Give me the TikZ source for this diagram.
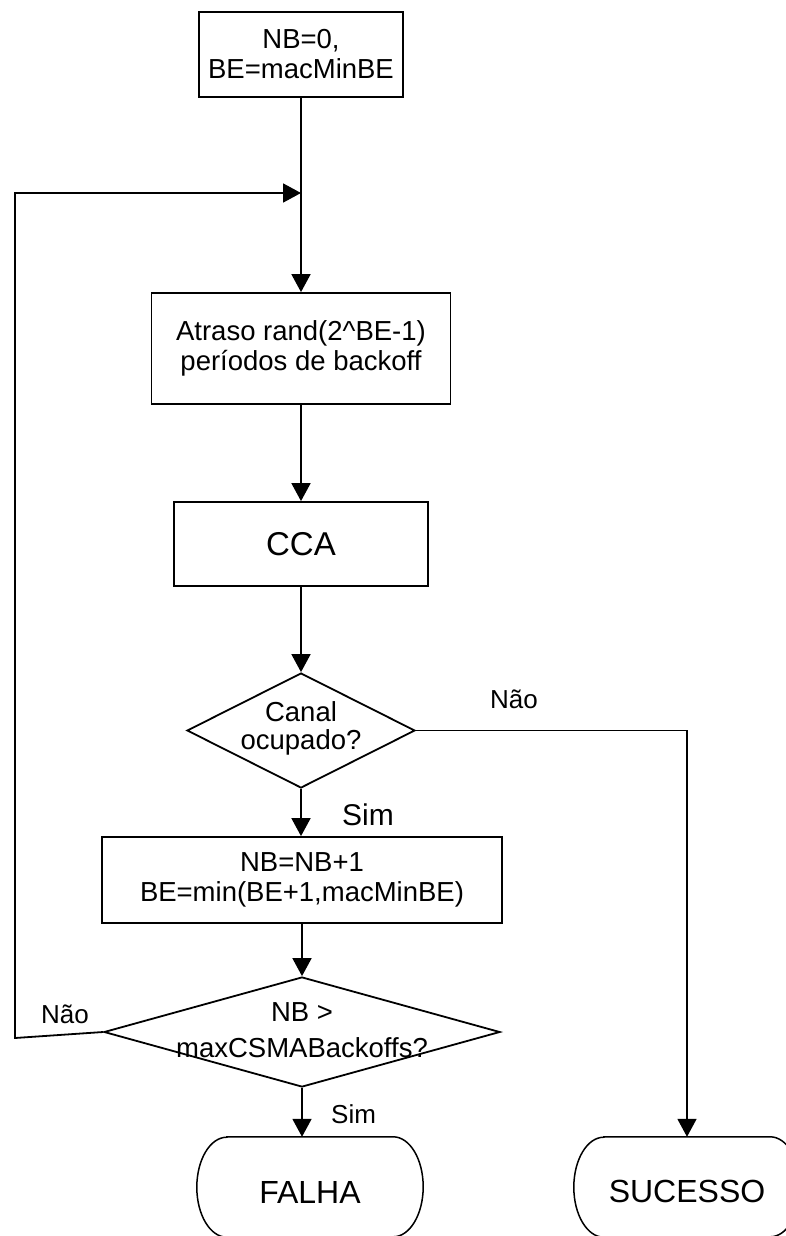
\documentclass[tikz,border=0pt]{standalone}
\usepackage{fontspec}
\setmainfont{Liberation Sans}
\usetikzlibrary{shapes.geometric,arrows.meta,calc}
\begin{document}
\begin{tikzpicture}[x=1pt,y=-1pt,
  box/.style={draw, line width=1.8pt, rectangle, align=center, inner sep=0pt,
              font=\fontsize{27.5}{30}\selectfont},
  decision/.style={draw, line width=1.8pt, diamond, inner sep=0pt},
  dtext/.style={align=center, inner sep=0pt},
  termnode/.style={rectangle, inner sep=0pt, minimum width=226pt,
                   minimum height=100pt, text height=32pt,
                   font=\fontsize{32}{34}\selectfont},
  termline/.style={line width=1.5pt},
  flow/.style={line width=1.8pt, -{Triangle[length=18pt,width=19pt]}},
  lbl/.style={inner sep=0pt, anchor=base west, font=\fontsize{26}{28}\selectfont},
]
\clip (0,0) rectangle (786,1236);

% process boxes
\node[box, minimum width=204pt, minimum height=85pt] (init) at (301,54.5)
  {NB=0,\\BE=macMinBE};
\node[box, minimum width=299pt, minimum height=111pt] (atr) at (301,348.5)
  {Atraso rand(2\^{}BE-1)\\períodos de backoff};
\node[box, minimum width=254pt, minimum height=84pt,
      font=\fontsize{33}{35}\selectfont] (cca) at (301,544) {CCA};
\node[box, minimum width=400pt, minimum height=86pt] (inc) at (302,880)
  {NB=NB+1\\BE=min(BE+1,macMinBE)};

% decisions
\node[decision, minimum width=228pt, minimum height=115pt] (d1) at (301,730.5) {};
\node[dtext, font=\fontsize{27.5}{28}\selectfont] (d1t) at (301,728) {Canal\\ocupado?};
\node[decision, minimum width=396pt, minimum height=110pt] (d2) at (302,1032) {};
\node[dtext, font=\fontsize{27.5}{36}\selectfont] (d2t) at (302,1030) {NB >\\maxCSMABackoffs?};

% terminals (flat top, elliptic ends)
\node[termnode] (fal) at (310,1187) {FALHA};
\node[termnode] (suc) at (687,1187) {SUCESSO};
\foreach \t in {fal,suc}{
  \draw[termline]
    ($(\t.north west)+(30,0)$) -- ($(\t.north east)+(-30,0)$)
    arc[start angle=90, end angle=-90, x radius=30pt, y radius=50pt]
    -- ($(\t.south west)+(30,0)$)
    arc[start angle=270, end angle=90, x radius=30pt, y radius=50pt]
    -- cycle;
}

% connectors
\coordinate (j) at (301,193);
\coordinate (lc) at (15,1038);
\draw[flow] (init.south) -- (atr.north);
\draw[flow] (atr.south) -- (cca.north);
\draw[flow] (cca.south) -- (d1.north);
\draw[flow] (d1.south) -- (d1.south |- inc.north);
\draw[flow] (inc.south) -- (inc.south -| d2.north) -- (d2.north);
\draw[flow] (d1.east) -| (suc.north);
\draw[flow] (d2.south) -- (d2.south |- fal.north);
\draw[flow] (d2.west) -- (lc) |- (j);

% branch labels
\node[lbl] (nao1) at (490,708) {Não};
\node[lbl, font=\fontsize{30}{32}\selectfont] (sim1) at (342,825) {Sim};
\node[lbl] (nao2) at (41,1023) {Não};
\node[lbl] (sim2) at (331,1123) {Sim};
\end{tikzpicture}
\end{document}
